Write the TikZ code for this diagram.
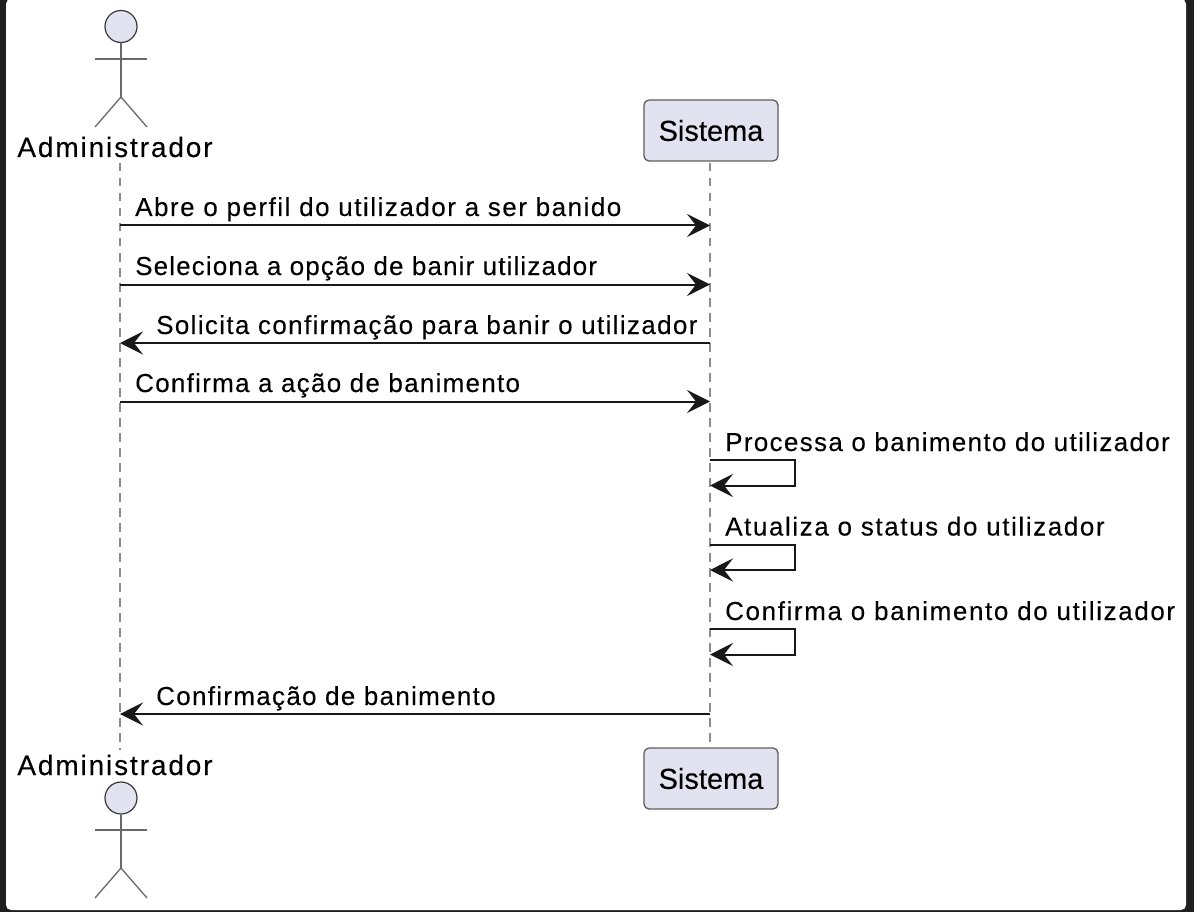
\documentclass[tikz,border=0pt]{standalone}
\usepackage{fontspec}
\setmainfont{Liberation Sans}
\newfontfamily\msgfont[FakeBold=0.12]{Liberation Sans}
\newfontfamily\actfont[LetterSpace=6.7,FakeBold=0.12]{Liberation Sans}
\newfontfamily\boxfont[FakeBold=0.12]{Liberation Sans}
\newcommand\lsp[1]{\addfontfeature{LetterSpace=#1}}
\usetikzlibrary{arrows.meta}
\definecolor{dark}{HTML}{1F1F1F}
\definecolor{part}{HTML}{E2E2F0}
\definecolor{life}{HTML}{8C8C8C}
\definecolor{ink}{HTML}{181818}
\tikzset{
  x=1pt,y=-1pt,
  msg/.style={inner sep=0pt,anchor=base west,font=\msgfont\fontsize{26}{30}\selectfont,text=black},
  actorname/.style={inner sep=0pt,anchor=base,font=\actfont\fontsize{28}{32}\selectfont,text=black},
  partbox/.style={draw=ink!70,line width=1.3pt,fill=part,rounded corners=5pt,minimum width=134pt,minimum height=61pt,inner sep=0pt,font=\boxfont\fontsize{29}{33}\selectfont,text=black},
  head/.style={circle,draw=ink!85,line width=1.2pt,fill=part,minimum size=32pt,inner sep=0pt},
  limb/.style={draw=ink!65,line width=1.3pt},
  lifeline/.style={draw=life,line width=1.4pt,dash pattern=on 8.5pt off 6.5pt},
  arrow/.style={draw=ink,line width=2pt,-{Stealth[length=23pt,width=23pt,inset=9pt]}},
}
\begin{document}
\begin{tikzpicture}
\useasboundingbox (0,0) rectangle (1194,912);
\fill[dark] (0,0) rectangle (1194,912);
\fill[white,rounded corners=5pt] (6,-1) rectangle (1186,910);

% actors
\node[head] (headT) at (121,26.5) {};
\coordinate (hipT) at (121,97);
\coordinate (armLT) at (95,59);
\coordinate (armRT) at (147,59);
\coordinate (footLT) at (95,127);
\coordinate (footRT) at (147,127);
\draw[limb] (headT.south) -- (hipT);
\draw[limb] (armLT) -- (armRT);
\draw[limb] (footLT) -- (hipT) -- (footRT);
\node[actorname] (admT) at (115,157) {Administrador};

\node[head] (headB) at (121,798) {};
\coordinate (hipB) at (121,868);
\coordinate (armLB) at (95,830);
\coordinate (armRB) at (147,830);
\coordinate (footLB) at (95,898);
\coordinate (footRB) at (147,898);
\draw[limb] (headB.south) -- (hipB);
\draw[limb] (armLB) -- (armRB);
\draw[limb] (footLB) -- (hipB) -- (footRB);
\node[actorname] (admB) at (115,775) {Administrador};

% participants
\node[partbox] (sysT) at (711,130.5) {Sistema};
\node[partbox] (sysB) at (711,778.5) {Sistema};

% lifelines
\coordinate (lifeAT) at (120,163);
\coordinate (lifeAB) at (120,750);
\coordinate (lifeST) at (710,163);
\coordinate (lifeSB) at (710,748);
\draw[lifeline] (lifeAT) -- (lifeAB);
\draw[lifeline] (lifeST) -- (lifeSB);

% message end points
\foreach \n/\y in {1/225.5,2/284.5,3/343,4/401.5,8/714}{
  \coordinate (a\n) at (120,\y);
  \coordinate (s\n) at (710,\y);
}
\foreach \n/\y/\z in {5/460/485.5,6/545/570,7/629/654.5}{
  \coordinate (p\n) at (710,\y);
  \coordinate (q\n) at (795,\y);
  \coordinate (r\n) at (795,\z);
  \coordinate (t\n) at (710,\z);
}

\draw[arrow] (a1) -- (s1);
\draw[arrow] (a2) -- (s2);
\draw[arrow] (s3) -- (a3);
\draw[arrow] (a4) -- (s4);
\draw[arrow] (p5) -- (q5) -- (r5) -- (t5);
\draw[arrow] (p6) -- (q6) -- (r6) -- (t6);
\draw[arrow] (p7) -- (q7) -- (r7) -- (t7);
\draw[arrow] (s8) -- (a8);

% labels
\node[msg] (m1) at (135,216) {\lsp{5.8}Abre o perfil do utilizador a ser banido};
\node[msg] (m2) at (135,275) {\lsp{4.4}Seleciona a opção de banir utilizador};
\node[msg] (m3) at (156,334) {\lsp{5.2}Solicita confirmação para banir o utilizador};
\node[msg] (m4) at (135,392) {\lsp{4.9}Confirma a ação de banimento};
\node[msg] (m5) at (725,451) {\lsp{5.1}Processa o banimento do utilizador};
\node[msg] (m6) at (725,535.5) {\lsp{6.1}Atualiza o status do utilizador};
\node[msg] (m7) at (725,620) {\lsp{6.2}Confirma o banimento do utilizador};
\node[msg] (m8) at (156,705) {\lsp{5.0}Confirmação de banimento};
\end{tikzpicture}
\end{document}
